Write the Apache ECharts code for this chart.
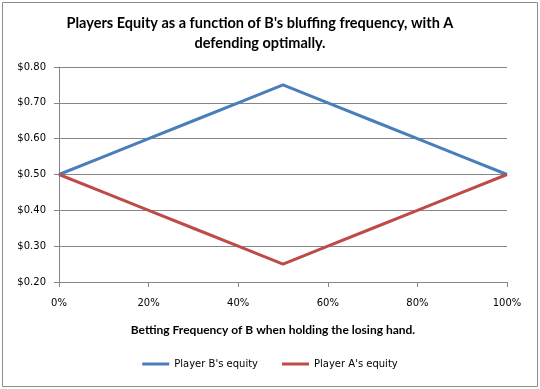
<!DOCTYPE html>
<html>
<head>
<meta charset="utf-8">
<script src="https://cdn.jsdelivr.net/npm/echarts@6/dist/echarts.min.js"></script>
<style>
html,body{margin:0;padding:0;background:#fff;}
#chart{width:540px;height:389px;}
</style>
</head>
<body>
<div id="chart"></div>
<script>
var bettingFreq = [0, 10, 20, 30, 40, 50, 60, 70, 80, 90, 100];
var playerB = [0.50, 0.55, 0.60, 0.65, 0.70, 0.75, 0.70, 0.65, 0.60, 0.55, 0.50];
var playerA = [0.50, 0.45, 0.40, 0.35, 0.30, 0.25, 0.30, 0.35, 0.40, 0.45, 0.50];
var seriesNames = ["Player B's equity", "Player A's equity"];
var titleText = "Players Equity as a function of B's bluffing frequency, with A\ndefending optimally.";
var xTitle = "Betting Frequency of B when holding the losing hand.";

function pairs(xs, ys){ return xs.map(function(x,i){ return [x, ys[i]]; }); }

var chart = echarts.init(document.getElementById('chart'), null, {renderer:'canvas'});
var axisColor = '#868686';
chart.setOption({
  animation:false,
  backgroundColor:'#fff',
  graphic:[
    {type:'rect', shape:{x:2.5,y:2.5,width:535,height:384}, style:{fill:'none', stroke:'#8c8c8c', lineWidth:1}, silent:true},
    {type:'text', x:260, y:13, silent:true,
      style:{text:titleText, textAlign:'center', fontFamily:'Lato', fontWeight:'bold', fontSize:14.5, fill:'#000', lineHeight:20}}
  ],
  grid:{left:59, right:33, top:67, bottom:107, containLabel:false},
  legend:{
    bottom:15, left:'center', itemWidth:27, itemHeight:3, itemGap:24,
    icon:'rect',
    textStyle:{fontFamily:'DejaVu Sans', fontSize:10, color:'#000'},
    data:seriesNames
  },
  xAxis:{
    type:'value', min:0, max:100, interval:20,
    name:xTitle, nameLocation:'middle', nameGap:42,
    nameTextStyle:{fontFamily:'Lato', fontWeight:'bold', fontSize:12, color:'#000', padding:[0,20,0,0]},
    axisLine:{show:true, lineStyle:{color:axisColor, width:1}},
    axisTick:{show:true, inside:false, length:5, lineStyle:{color:axisColor}},
    axisLabel:{formatter:'{value}%', margin:16, fontFamily:'DejaVu Sans', fontSize:10, color:'#000'},
    splitLine:{show:false}
  },
  yAxis:{
    type:'value', min:0.2, max:0.8, interval:0.1,
    axisLine:{show:true, lineStyle:{color:axisColor, width:1}},
    axisTick:{show:true, inside:false, length:5, lineStyle:{color:axisColor}},
    axisLabel:{formatter:function(v){return '$' + v.toFixed(2);}, margin:13, fontFamily:'DejaVu Sans', fontSize:10, color:'#000'},
    splitLine:{show:true, lineStyle:{color:axisColor, width:1}}
  },
  series:[
    {name:seriesNames[0], type:'line', data:pairs(bettingFreq, playerB), showSymbol:false, symbol:'none',
      lineStyle:{color:'#4A7EBB', width:3}, itemStyle:{color:'#4A7EBB'}},
    {name:seriesNames[1], type:'line', data:pairs(bettingFreq, playerA), showSymbol:false, symbol:'none',
      lineStyle:{color:'#BE4B48', width:3}, itemStyle:{color:'#BE4B48'}}
  ]
});
</script>
</body>
</html>
